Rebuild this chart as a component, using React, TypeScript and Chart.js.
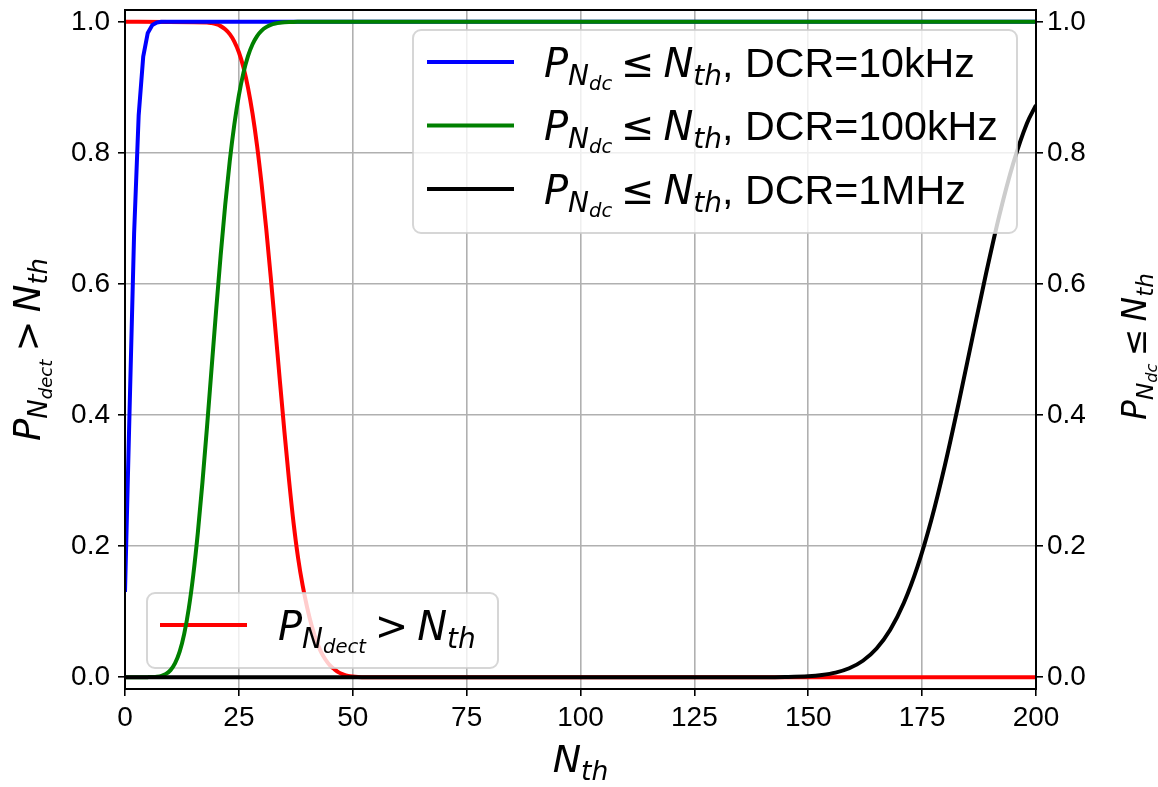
import React, { useEffect, useRef } from 'react';
import { Chart, registerables } from 'chart.js';

Chart.register(...registerables);

// ---------------- data ----------------
const RED_N = [0, 18, 19, 20, 21, 22, 23, 24, 25, 26, 27, 28, 29, 30, 31, 32, 33, 34, 35, 36, 37, 38, 39, 40, 41, 42, 43, 44, 45, 46, 47, 48, 49, 50, 52, 200];
const RED_P = [1.0, 0.999, 0.998, 0.9963, 0.9934, 0.9887, 0.9812, 0.9699, 0.9535, 0.9306, 0.8997, 0.8599, 0.8106, 0.7517, 0.6844, 0.6103, 0.5319, 0.4522, 0.3745, 0.3015, 0.2358, 0.182, 0.14, 0.106, 0.078, 0.056, 0.039, 0.027, 0.018, 0.012, 0.007, 0.004, 0.002, 0.001, 0.0, 0.0];

const BLUE_N = [0, 1, 2, 3, 4, 5, 6, 7, 8, 9, 200];
const BLUE_P = [0.13, 0.406, 0.677, 0.857, 0.947, 0.983, 0.995, 0.999, 1.0, 1.0, 1.0];

const GREEN_N = [0, 4, 5, 6, 7, 8, 9, 10, 11, 12, 13, 14, 15, 16, 17, 18, 19, 20, 21, 22, 23, 24, 25, 26, 27, 28, 29, 30, 31, 32, 33, 34, 35, 36, 37, 38, 40, 200];
const GREEN_P = [0, 0, 0.0001, 0.0003, 0.0008, 0.0021, 0.005, 0.0108, 0.0214, 0.039, 0.0661, 0.1049, 0.1565, 0.2211, 0.297, 0.3814, 0.4703, 0.5591, 0.6437, 0.7206, 0.7875, 0.8432, 0.8878, 0.9221, 0.9475, 0.9657, 0.9782, 0.9865, 0.9919, 0.9953, 0.9973, 0.9985, 0.9992, 0.9996, 0.9998, 0.9999, 1.0, 1.0];

const BLACK_N = [0, 140, 145, 150, 153, 156, 159, 162, 165, 168, 171, 174, 177, 180, 183, 186, 189, 192, 195, 198, 200];
const BLACK_P = [0, 0.0001, 0.0004, 0.0015, 0.0034, 0.007, 0.0136, 0.0251, 0.0438, 0.0724, 0.1135, 0.169, 0.2394, 0.3234, 0.4175, 0.5166, 0.6148, 0.706, 0.784, 0.845, 0.873];

const X_TICKS = [0, 25, 50, 75, 100, 125, 150, 175, 200];
const Y_TICKS = [0, 0.2, 0.4, 0.6, 0.8, 1.0];
const DCR_LABELS = ['DCR=10kHz', 'DCR=100kHz', 'DCR=1MHz'];
const DCR_COLORS = ['#0000ff', '#008000', '#000000'];
const RED_COLOR = '#ff0000';

// ---------------- styling ----------------
const TICK_FONT = '"Liberation Sans", Arial, sans-serif';
const W = 1158;
const H = 787;

type Seg = { t: string; l?: number; f?: 'i' | 'u' | 't'; g?: number; s?: number };
const LVL_SCALE = [1, 0.7, 0.49];
const LVL_DY = [0, 0.2, 0.33];

function segFont(s: Seg, size: number) {
  const sz = size * LVL_SCALE[s.l ?? 0] * (s.s ?? 1);
  if (s.f === 't') return `${sz}px "Liberation Sans", Arial, sans-serif`;
  if (s.f === 'u') return `${sz}px "DejaVu Sans", sans-serif`;
  return `italic ${sz}px "DejaVu Sans", sans-serif`;
}

function mathWidth(ctx: CanvasRenderingContext2D, segs: Seg[], size: number) {
  let w = 0;
  for (const s of segs) {
    w += (s.g ?? 0) * size;
    ctx.font = segFont(s, size);
    w += ctx.measureText(s.t).width;
  }
  return w;
}

function drawMath(ctx: CanvasRenderingContext2D, segs: Seg[], x: number, y: number, size: number) {
  let cx = x;
  ctx.fillStyle = '#000';
  ctx.textBaseline = 'alphabetic';
  ctx.textAlign = 'left';
  for (const s of segs) {
    cx += (s.g ?? 0) * size;
    ctx.font = segFont(s, size);
    ctx.fillText(s.t, cx, y + LVL_DY[s.l ?? 0] * size);
    cx += ctx.measureText(s.t).width;
  }
  return cx - x;
}

const SEG_DECT: Seg[] = [
  { t: 'P' }, { t: 'N', l: 1 }, { t: 'dect', l: 2 },
  { t: '>', f: 'u', g: 0.22 }, { t: 'N', g: 0.22 }, { t: 'th', l: 1 },
];
const SEG_DC: Seg[] = [
  { t: 'P' }, { t: 'N', l: 1 }, { t: 'dc', l: 2 },
  { t: '\u2264', f: 'u', g: 0.22 }, { t: 'N', g: 0.22 }, { t: 'th', l: 1 },
];
const SEG_NTH: Seg[] = [{ t: 'N' }, { t: 'th', l: 1 }];

function roundRect(ctx: CanvasRenderingContext2D, x: number, y: number, w: number, h: number, r: number) {
  ctx.beginPath();
  ctx.moveTo(x + r, y);
  ctx.lineTo(x + w - r, y);
  ctx.arcTo(x + w, y, x + w, y + r, r);
  ctx.lineTo(x + w, y + h - r);
  ctx.arcTo(x + w, y + h, x + w - r, y + h, r);
  ctx.lineTo(x + r, y + h);
  ctx.arcTo(x, y + h, x, y + h - r, r);
  ctx.lineTo(x, y + r);
  ctx.arcTo(x, y, x + r, y, r);
  ctx.closePath();
}

function legendBox(ctx: CanvasRenderingContext2D, x: number, y: number, w: number, h: number) {
  ctx.save();
  roundRect(ctx, x, y, w, h, 8);
  ctx.fillStyle = 'rgba(255,255,255,0.8)';
  ctx.fill();
  ctx.lineWidth = 2;
  ctx.strokeStyle = 'rgba(204,204,204,0.8)';
  ctx.stroke();
  ctx.restore();
}

function handle(ctx: CanvasRenderingContext2D, x0: number, x1: number, y: number, color: string) {
  ctx.save();
  ctx.strokeStyle = color;
  ctx.lineWidth = 4;
  ctx.beginPath();
  ctx.moveTo(x0, y);
  ctx.lineTo(x1, y);
  ctx.stroke();
  ctx.restore();
}

const overlay = {
  id: 'overlay',
  afterDatasetDraw(chart: any, args: any) {
    if (args.index !== 0) return;
    const ctx: CanvasRenderingContext2D = chart.ctx;
    // lower-left legend (belongs to the left axis, below the other curves)
    legendBox(ctx, 147, 593, 351, 75);
    handle(ctx, 160, 247, 625, RED_COLOR);
    ctx.save();
    drawMath(ctx, SEG_DECT, 278, 639.5, 40);
    ctx.restore();
  },
  afterDatasetsDraw(chart: any) {
    const ctx: CanvasRenderingContext2D = chart.ctx;
    const a = chart.chartArea;
    ctx.save();
    ctx.strokeStyle = '#000';
    ctx.lineWidth = 2;
    ctx.strokeRect(a.left, a.top, a.right - a.left, a.bottom - a.top);
    ctx.restore();

    // upper-right legend
    legendBox(ctx, 413, 30, 604, 203);
    const rows = [62, 125.5, 189];
    rows.forEach((ry, i) => {
      handle(ctx, 427, 514, ry, DCR_COLORS[i]);
      const segs: Seg[] = [...SEG_DC, { t: ',', f: 't', s: 1.03 }, { t: ' ' + DCR_LABELS[i], f: 't', s: 1.03 }];
      drawMath(ctx, segs, 544, ry + 14.5, 40);
    });
  },
  afterDraw(chart: any) {
    const ctx: CanvasRenderingContext2D = chart.ctx;
    const a = chart.chartArea;
    const cy = (a.top + a.bottom) / 2;
    const cx = (a.left + a.right) / 2;
    // x title
    ctx.save();
    const wx = mathWidth(ctx, SEG_NTH, 38);
    drawMath(ctx, SEG_NTH, cx - wx / 2, 772, 38);
    ctx.restore();
    // left y title
    ctx.save();
    ctx.translate(40, cy);
    ctx.rotate(-Math.PI / 2);
    const wl = mathWidth(ctx, SEG_DECT, 37);
    drawMath(ctx, SEG_DECT, -wl / 2, 0, 37);
    ctx.restore();
    // right y title
    ctx.save();
    ctx.translate(1146, cy - 3);
    ctx.rotate(-Math.PI / 2);
    const wr = mathWidth(ctx, SEG_DC, 33);
    drawMath(ctx, SEG_DC, -wr / 2, 0, 33);
    ctx.restore();
  },
};

function zeroPad(s: any) {
  s.paddingTop = 0;
  s.paddingBottom = 0;
  s.paddingLeft = 0;
  s.paddingRight = 0;
}

export default function App() {
  const ref = useRef<HTMLCanvasElement | null>(null);

  useEffect(() => {
    document.body.style.margin = '0';
    const canvas = ref.current;
    if (!canvas) return;

    const mk = (xs: number[], ys: number[]) => xs.map((x, i) => ({ x, y: ys[i] }));
    const tickFont = { family: TICK_FONT, size: 28 };
    const yAxisBase = (position: 'left' | 'right', width: number, onArea: boolean, pad: number) => ({
      type: 'linear' as const,
      position,
      min: -0.018,
      max: 1.018,
      afterBuildTicks: (s: any) => {
        s.ticks = Y_TICKS.map((v) => ({ value: v }));
      },
      afterFit: (s: any) => {
        s.width = width;
        zeroPad(s);
      },
      ticks: {
        font: tickFont,
        color: '#000',
        padding: pad,
        autoSkip: false,
        callback: (v: any) => Number(v).toFixed(1),
      },
      grid: {
        display: true,
        drawOnChartArea: onArea,
        color: '#b0b0b0',
        lineWidth: 1.6,
        tickColor: '#000',
        tickLength: 7,
        tickWidth: 1.6,
      },
      border: { display: false },
    });

    const chart = new Chart(canvas, {
      type: 'line',
      data: {
        datasets: [
          {
            label: 'red',
            data: mk(RED_N, RED_P),
            borderColor: RED_COLOR,
            borderWidth: 4,
            yAxisID: 'y',
            order: 4,
            cubicInterpolationMode: 'monotone',
          },
          {
            label: 'blue',
            data: mk(BLUE_N, BLUE_P),
            borderColor: DCR_COLORS[0],
            borderWidth: 4,
            yAxisID: 'y2',
            order: 3,
            tension: 0,
          },
          {
            label: 'green',
            data: mk(GREEN_N, GREEN_P),
            borderColor: DCR_COLORS[1],
            borderWidth: 4,
            yAxisID: 'y2',
            order: 2,
            cubicInterpolationMode: 'monotone',
          },
          {
            label: 'black',
            data: mk(BLACK_N, BLACK_P),
            borderColor: DCR_COLORS[2],
            borderWidth: 4,
            yAxisID: 'y2',
            order: 1,
            cubicInterpolationMode: 'monotone',
          },
        ] as any,
      },
      options: {
        animation: false,
        responsive: false,
        devicePixelRatio: 1,
        layout: { padding: { top: 10, left: 0, right: 0, bottom: 0 } },
        elements: {
          point: { radius: 0, hoverRadius: 0 },
          line: { borderJoinStyle: 'round', borderCapStyle: 'butt', fill: false },
        },
        plugins: {
          legend: { display: false },
          tooltip: { enabled: false },
          title: { display: false },
        },
        events: [],
        scales: {
          x: {
            type: 'linear',
            min: 0,
            max: 200,
            afterBuildTicks: (s: any) => {
              s.ticks = X_TICKS.map((v) => ({ value: v }));
            },
            afterFit: (s: any) => {
              s.height = 98;
              zeroPad(s);
            },
            ticks: {
              font: tickFont,
              color: '#000',
              padding: 5,
              maxRotation: 0,
              autoSkip: false,
              callback: (v: any) => String(v),
            },
            grid: {
              color: '#b0b0b0',
              lineWidth: 1.6,
              tickColor: '#000',
              tickLength: 7,
              tickWidth: 1.6,
            },
            border: { display: false },
          },
          y: yAxisBase('left', 125, true, 8),
          y2: yAxisBase('right', 122, false, 4),
        } as any,
      },
      plugins: [overlay as any],
    });

    return () => chart.destroy();
  }, []);

  return (
    <div style={{ position: 'fixed', left: 0, top: 0, width: W, height: H, background: '#fff' }}>
      <canvas ref={ref} width={W} height={H} style={{ display: 'block' }} />
    </div>
  );
}
